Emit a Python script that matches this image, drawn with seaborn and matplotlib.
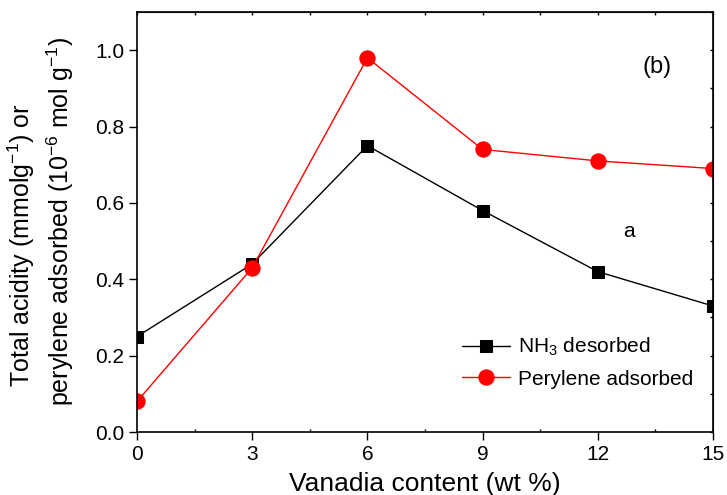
import matplotlib
matplotlib.use("Agg")
import matplotlib.pyplot as plt
import seaborn as sns
import pandas as pd
from matplotlib.ticker import MultipleLocator, FormatStrFormatter

# data
vanadia = [0, 3, 6, 9, 12, 15]
nh3_desorbed = [0.25, 0.44, 0.75, 0.58, 0.42, 0.33]
perylene_adsorbed = [0.08, 0.43, 0.98, 0.74, 0.71, 0.69]

sns.set_style("ticks")
plt.rcParams['font.family'] = ['Liberation Sans', 'DejaVu Sans']
plt.rcParams['mathtext.fontset'] = 'custom'
plt.rcParams['mathtext.rm'] = 'Liberation Sans'
plt.rcParams['mathtext.it'] = 'Liberation Sans:italic'
plt.rcParams['text.color'] = 'black'
plt.rcParams['axes.labelcolor'] = 'black'

df = pd.DataFrame({'x': vanadia, 'nh3': nh3_desorbed, 'pery': perylene_adsorbed})

W, H = 727, 495
fig = plt.figure(figsize=(W / 100, H / 100), dpi=100)
ax = fig.add_axes([137 / W, 1 - 432 / H, 576 / W, 420 / H])

sns.lineplot(data=df, x='x', y='nh3', ax=ax, color='black', lw=1, marker='s',
             markersize=9, markeredgecolor='black', label='NH$_3$ desorbed')
sns.lineplot(data=df, x='x', y='pery', ax=ax, color='red', lw=1, marker='o',
             markersize=11, markeredgecolor='red', label='Perylene adsorbed')

ax.set_xlim(0, 15)
ax.set_ylim(0, 1.1)
ax.xaxis.set_major_locator(MultipleLocator(3))
ax.xaxis.set_minor_locator(MultipleLocator(1.5))
ax.yaxis.set_major_locator(MultipleLocator(0.2))
ax.yaxis.set_major_formatter(FormatStrFormatter('%.1f'))

ax.tick_params(which='major', direction='out', length=6, width=1, labelsize=15,
               colors='black', pad=3)
ax.tick_params(axis='x', which='minor', direction='in', length=2, width=1, colors='black')
for s in ax.spines.values():
    s.set_linewidth(1.2)
    s.set_color('black')

# small inward ticks on top and right edges
top = ax.secondary_xaxis('top')
top.xaxis.set_major_locator(MultipleLocator(1.5))
top.tick_params(direction='in', length=2, width=1, labeltop=False, colors='black')
right = ax.secondary_yaxis('right')
right.yaxis.set_major_locator(MultipleLocator(0.1))
right.tick_params(direction='in', length=2, width=1, labelright=False, colors='black')

ax.set_xlabel('Vanadia content (wt %)', fontsize=19, labelpad=6, color='black')
ax.set_ylabel('')
# y label as two separate lines, as placed in the reference
fig.text(21 / W, 1 - 245 / H, 'Total acidity (mmolg$^{-1}$) or', rotation=90,
         fontsize=18, ha='center', va='center', color='black')
fig.text(60 / W, 1 - 222 / H, 'perylene adsorbed (10$^{-6}$ mol g$^{-1}$)', rotation=90,
         fontsize=18, ha='center', va='center', color='black')

ax.text(13.55, 0.955, '(b)', fontsize=17, ha='center', va='center', color='black')
ax.text(12.8, 0.524, 'a', fontsize=15, ha='center', va='center', color='black')

leg = ax.legend(loc='center left', bbox_to_anchor=(0.565, 0.166), frameon=False, fontsize=15,
                handlelength=2.3, handletextpad=0.35, labelspacing=0.55, borderaxespad=0,
                borderpad=0)
for t in leg.get_texts():
    t.set_color('black')

fig.savefig('out.png', dpi=100)
